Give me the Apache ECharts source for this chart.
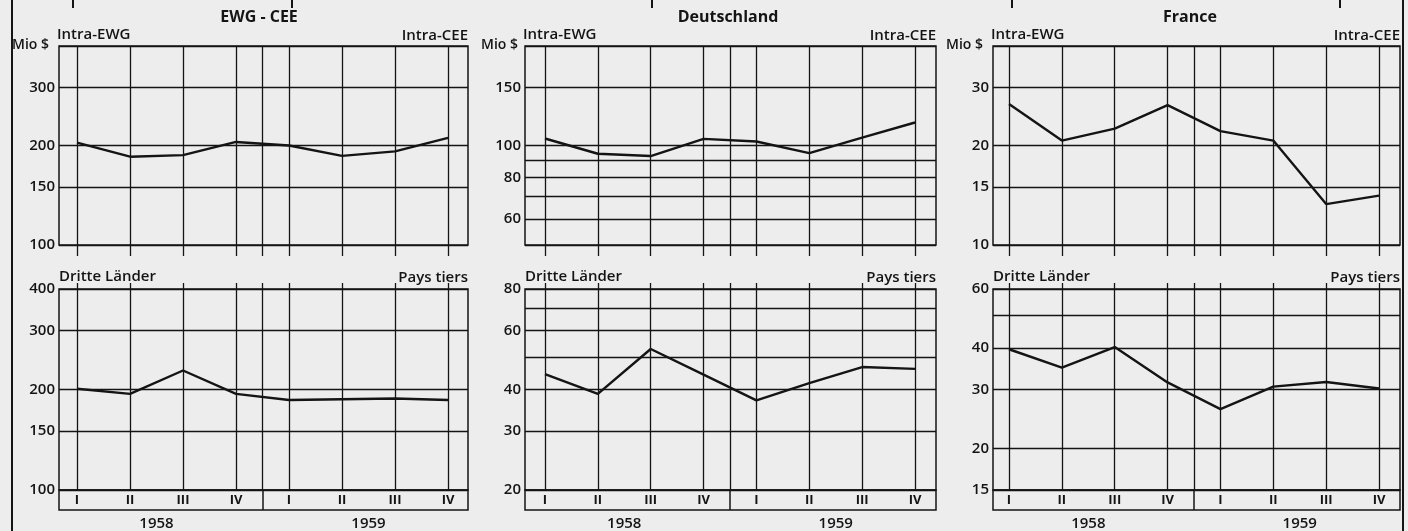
<!DOCTYPE html>
<html><head><meta charset="utf-8">
<script src="https://cdn.jsdelivr.net/npm/echarts@6/dist/echarts.min.js"></script>
<style>html,body{margin:0;padding:0;background:#ededed;}#c{width:1408px;height:531px;}</style>
</head><body><div id="c"></div>
<script>
// ---------- data ----------
const quarters = ['I', 'II', 'III', 'IV', 'I', 'II', 'III', 'IV'];
const years = ['1958', '1959'];
const panelTitles = ['EWG - CEE', 'Deutschland', 'France'];

const ewgIntra = [204, 185, 187, 205, 200, 186, 192, 211];
const ewgThird = [201, 194, 228, 194, 186, 187, 188, 186];
const deIntra = [105, 94.4, 92.9, 104.7, 102.8, 94.8, 105.6, 117.4];
const deThird = [44.5, 38.8, 52.9, 44.3, 37.1, 41.8, 46.7, 46.1];
const frIntra = [26.7, 20.7, 22.5, 26.5, 22.1, 20.7, 13.3, 14.1];
const frThird = [39.6, 34.9, 40.2, 31.5, 26.2, 30.6, 31.6, 30.2];

// y scale: gridlines and labelled ticks
const ewgTopLines = [100, 150, 200, 300, 400];
const ewgTopLabels = [100, 150, 200, 300];
const ewgBotLines = [100, 150, 200, 300, 400];
const ewgBotLabels = [100, 150, 200, 300, 400];
const deTopLines = [50, 60, 70, 80, 90, 100, 150, 200];
const deTopLabels = [60, 80, 100, 150];
const deBotLines = [20, 30, 40, 50, 60, 70, 80];
const deBotLabels = [20, 30, 40, 60, 80];
const frTopLines = [10, 15, 20, 30, 40];
const frTopLabels = [10, 15, 20, 30];
const frBotLines = [15, 20, 30, 40, 50, 60];
const frBotLabels = [15, 20, 30, 40, 60];

// ---------- layout ----------
const INK = '#141414';
const FONT = '"Open Sans"';
const cols = [
  { left: 59, width: 409, xMin: -0.34, xMax: 7.377, top: ewgIntra, bot: ewgThird,
    tL: ewgTopLines, tLab: ewgTopLabels, bL: ewgBotLines, bLab: ewgBotLabels },
  { left: 525, width: 411, xMin: -0.378, xMax: 7.397, top: deIntra, bot: deThird,
    tL: deTopLines, tLab: deTopLabels, bL: deBotLines, bLab: deBotLabels },
  { left: 993, width: 407, xMin: -0.303, xMax: 7.397, top: frIntra, bot: frThird,
    tL: frTopLines, tLab: frTopLabels, bL: frBotLines, bLab: frBotLabels }
];
const TOP_Y = 46, TOP_H = 199, BOT_Y = 289, BOT_H = 201, STRIP_H = 20;

const qIdx = quarters.map((q, i) => i);
const yearSplit = quarters.length / 2 - 0.5;
const vLines = qIdx.concat([yearSplit]);
const yearCenters = years.map((y, k) => k * 4 + 1.5);

const grid = [], xAxis = [], yAxis = [], series = [];
const gridLine = { color: INK, width: 1.3 };

cols.forEach((c, ci) => {
  const g0 = grid.length;
  grid.push({ left: c.left, top: TOP_Y, width: c.width, height: TOP_H, show: true, borderColor: INK, borderWidth: 1.5, backgroundColor: 'transparent' });
  grid.push({ left: c.left, top: BOT_Y, width: c.width, height: BOT_H, show: true, borderColor: INK, borderWidth: 1.5, backgroundColor: 'transparent' });
  grid.push({ left: c.left, top: BOT_Y + BOT_H, width: c.width, height: STRIP_H, show: true, borderColor: INK, borderWidth: 1.5, backgroundColor: 'transparent' });

  // top panel x
  const xTop = xAxis.length;
  xAxis.push({ gridIndex: g0, type: 'value', min: c.xMin, max: c.xMax, position: 'bottom',
    axisLine: { show: false }, axisLabel: { show: false },
    axisTick: { show: true, length: 11, customValues: vLines, lineStyle: gridLine },
    splitLine: { show: true, lineStyle: gridLine } });
  // bottom panel x
  const xBot = xAxis.length;
  xAxis.push({ gridIndex: g0 + 1, type: 'value', min: c.xMin, max: c.xMax, position: 'top',
    axisLine: { show: false }, axisLabel: { show: false },
    axisTick: { show: true, length: 6, customValues: vLines, lineStyle: gridLine },
    splitLine: { show: true, lineStyle: gridLine } });
  // strip quarter labels
  xAxis.push({ gridIndex: g0 + 2, type: 'value', min: c.xMin, max: c.xMax, position: 'bottom',
    axisLine: { show: false },
    axisLabel: { inside: true, margin: 3, customValues: qIdx, color: INK, fontFamily: FONT, fontSize: 13, fontWeight: 'bold',
      formatter: v => quarters[Math.round(v)] },
    axisTick: { show: false, customValues: [yearSplit] },
    splitLine: { show: true, lineStyle: { color: INK, width: 1.5 } } });
  // strip year labels
  xAxis.push({ gridIndex: g0 + 2, type: 'value', min: c.xMin, max: c.xMax, position: 'bottom', offset: 0,
    axisLine: { show: false }, axisTick: { show: false }, splitLine: { show: false },
    axisLabel: { margin: 6, customValues: yearCenters, color: INK, fontFamily: FONT, fontSize: 15, fontWeight: 600,
      formatter: v => years[Math.round((v - 1.5) / 4)] } });

  const mkY = (gi, lines, labs) => ({
    gridIndex: gi, type: 'log', logBase: 10, min: lines[0], max: lines[lines.length - 1],
    axisLine: { show: false },
    axisTick: { show: false, customValues: lines },
    axisLabel: { customValues: labs, margin: 4, color: INK, fontFamily: FONT, fontSize: 15, fontWeight: 600 },
    splitLine: { show: true, lineStyle: gridLine }
  });
  const yTop = yAxis.length;
  yAxis.push(mkY(g0, c.tL, c.tLab));
  const yBot = yAxis.length;
  yAxis.push(mkY(g0 + 1, c.bL, c.bLab));
  yAxis.push({ gridIndex: g0 + 2, type: 'value', min: 0, max: 1, show: false });

  const lineSeries = (xi, yi, vals) => ({
    type: 'line', xAxisIndex: xi, yAxisIndex: yi, symbol: 'none', silent: true, animation: false,
    lineStyle: { color: INK, width: 2.4 }, data: vals.map((v, i) => [i, v])
  });
  series.push(lineSeries(xTop, yTop, c.top));
  series.push(lineSeries(xBot, yBot, c.bot));
});

// ---------- text & frame decorations ----------
const txt = (x, y, text, align, weight, size) => ({
  type: 'text', x, y, silent: true,
  style: { text, fill: INK, font: weight + ' ' + size + 'px ' + FONT, textAlign: align, textVerticalAlign: 'middle' }
});
const graphic = [];
const titleX = [259, 728, 1190];
const mioX = [12, 481, 946];
cols.forEach((c, ci) => {
  graphic.push(txt(titleX[ci], 17, panelTitles[ci], 'center', 'bold', 16));
  graphic.push(txt(mioX[ci], 45, 'Mio $', 'left', 600, 14));
  graphic.push(txt(c.left - 2, 35, 'Intra-EWG', 'left', 600, 15));
  graphic.push(txt(c.left + c.width, 36, 'Intra-CEE', 'right', 600, 15));
  graphic.push(txt(c.left, 277, 'Dritte Länder', 'left', 600, 15));
  graphic.push(txt(c.left + c.width, 278, 'Pays tiers', 'right', 600, 15));
});
const vseg = (x, y1, y2) => ({ type: 'line', silent: true, shape: { x1: x, y1, x2: x, y2 }, style: { stroke: INK, lineWidth: 2 } });
graphic.push(vseg(12, 0, 531), vseg(1403, 0, 531));
[73, 292, 652, 1012, 1340].forEach(x => graphic.push(vseg(x, 0, 8)));

const chart = echarts.init(document.getElementById('c'), null, { renderer: 'canvas' });
chart.setOption({
  backgroundColor: '#ededed',
  animation: false,
  grid, xAxis, yAxis, series, graphic
});
</script></body></html>
